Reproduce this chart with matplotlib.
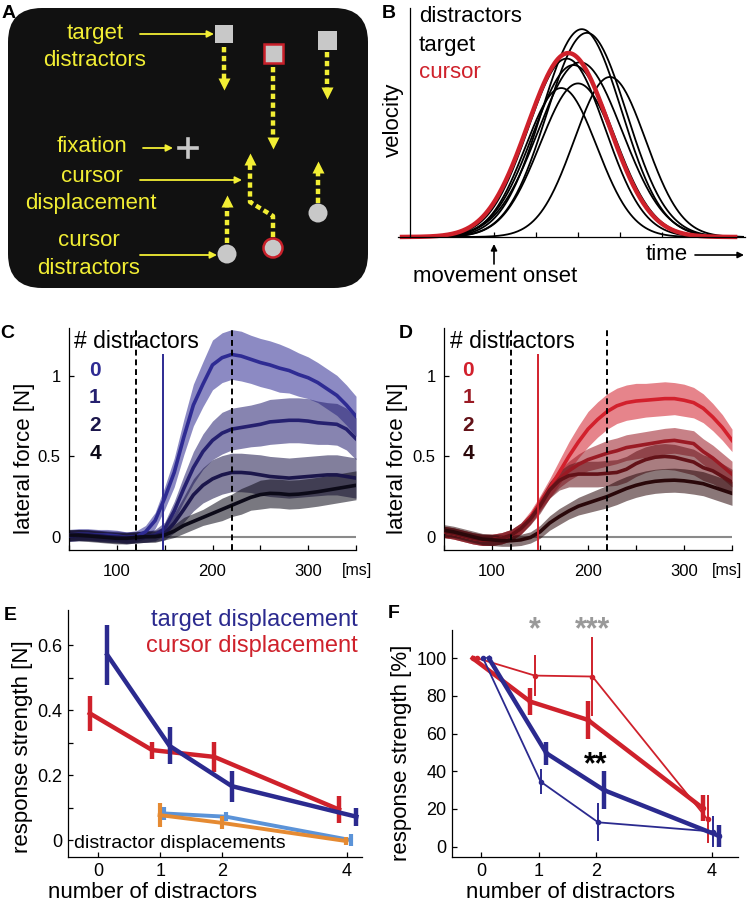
import numpy as np
import matplotlib
matplotlib.use('Agg')
import matplotlib.pyplot as plt
from matplotlib.patches import FancyBboxPatch, Rectangle, Circle

plt.rcParams['font.family'] = ['Liberation Sans', 'DejaVu Sans']

W, H = 747, 902

# ---------------- data ----------------
# panel B: schematic velocity profiles (peak time, peak height, width)
dist_peak_t = [4.09, 4.21, 3.73, 3.89, 4.05, 4.76, 4.00, 3.60]
dist_peak_h = [1.13, 1.11, 0.97, 0.935, 0.95, 0.87, 0.835, 0.81]
dist_width = [0.95, 0.95, 0.92, 0.95, 1.0, 0.85, 0.9, 0.85]
cursor_peak_t, cursor_peak_h, cursor_width = 3.77, 1.0, 0.97
onset_ticks = [2, 3, 4, 5, 6]

# panels C / D: lateral force traces [N]
time_ms = list(range(50, 351, 10))
dashed_ms = [120, 220]
stim_ms = 148
n_dist = ['0', '1', '2', '4']

target_force = [
    [0.01, 0.015, 0.015, 0.01, 0.01, 0.005, -0.005, 0.0, 0.03, 0.10,
     0.24, 0.40, 0.62, 0.82, 0.95, 1.07, 1.115, 1.135, 1.125, 1.105,
     1.085, 1.07, 1.05, 1.035, 1.01, 0.99, 0.96, 0.92, 0.88, 0.82, 0.75],
    [0.005, 0.01, 0.01, 0.005, 0.0, 0.0, -0.005, 0.0, 0.0, 0.01,
     0.05, 0.16, 0.30, 0.43, 0.53, 0.60, 0.645, 0.67, 0.68, 0.69,
     0.70, 0.715, 0.72, 0.725, 0.725, 0.72, 0.71, 0.705, 0.70, 0.67, 0.61],
    [0.005, 0.01, 0.01, 0.005, 0.0, -0.005, -0.01, -0.005, 0.0, 0.005,
     0.02, 0.085, 0.17, 0.26, 0.32, 0.36, 0.385, 0.40, 0.40, 0.395,
     0.385, 0.375, 0.37, 0.365, 0.37, 0.375, 0.38, 0.385, 0.385, 0.375, 0.365],
    [0.01, 0.01, 0.005, 0.0, -0.005, -0.01, -0.01, -0.005, 0.0, 0.0,
     0.01, 0.035, 0.07, 0.095, 0.12, 0.145, 0.17, 0.195, 0.22, 0.245,
     0.262, 0.27, 0.268, 0.262, 0.265, 0.272, 0.28, 0.29, 0.30, 0.31, 0.32],
]
target_sem = [
    [0.035, 0.035, 0.035, 0.035, 0.035, 0.035, 0.035, 0.035, 0.04, 0.05,
     0.07, 0.09, 0.11, 0.13, 0.14, 0.155, 0.155, 0.155, 0.155, 0.15,
     0.15, 0.15, 0.15, 0.14, 0.135, 0.13, 0.125, 0.125, 0.125, 0.125, 0.125],
    [0.035, 0.035, 0.035, 0.035, 0.035, 0.035, 0.035, 0.035, 0.035, 0.035,
     0.04, 0.06, 0.08, 0.10, 0.11, 0.12, 0.13, 0.13, 0.13, 0.13,
     0.135, 0.14, 0.14, 0.14, 0.14, 0.14, 0.135, 0.13, 0.13, 0.13, 0.13],
    [0.035, 0.035, 0.035, 0.035, 0.035, 0.035, 0.035, 0.035, 0.035, 0.035,
     0.04, 0.06, 0.08, 0.10, 0.11, 0.12, 0.12, 0.12, 0.12, 0.12,
     0.125, 0.125, 0.125, 0.125, 0.125, 0.125, 0.125, 0.125, 0.125, 0.125, 0.125],
    [0.035, 0.035, 0.035, 0.035, 0.035, 0.035, 0.035, 0.035, 0.035, 0.035,
     0.03, 0.04, 0.05, 0.05, 0.05, 0.06, 0.07, 0.07, 0.08, 0.08,
     0.09, 0.09, 0.09, 0.09, 0.09, 0.09, 0.09, 0.09, 0.09, 0.09, 0.09],
]
cursor_force = [
    [0.03, 0.02, 0.005, -0.01, -0.02, -0.02, -0.01, 0.01, 0.05, 0.12,
     0.21, 0.30, 0.40, 0.50, 0.59, 0.67, 0.73, 0.78, 0.815, 0.835,
     0.845, 0.85, 0.855, 0.86, 0.86, 0.85, 0.835, 0.80, 0.745, 0.68, 0.60],
    [0.03, 0.02, 0.005, -0.01, -0.02, -0.02, -0.01, 0.01, 0.05, 0.11,
     0.20, 0.29, 0.36, 0.41, 0.45, 0.48, 0.50, 0.52, 0.535, 0.555,
     0.565, 0.575, 0.585, 0.595, 0.60, 0.59, 0.58, 0.53, 0.49, 0.44, 0.39],
    [0.03, 0.02, 0.005, -0.01, -0.02, -0.02, -0.01, 0.01, 0.05, 0.11,
     0.19, 0.29, 0.35, 0.38, 0.39, 0.39, 0.39, 0.395, 0.40, 0.42,
     0.455, 0.48, 0.495, 0.50, 0.495, 0.48, 0.465, 0.43, 0.41, 0.375, 0.34],
    [0.04, 0.03, 0.015, 0.0, -0.015, -0.02, -0.025, -0.025, -0.02, -0.005,
     0.03, 0.085, 0.125, 0.16, 0.19, 0.21, 0.23, 0.25, 0.275, 0.30,
     0.32, 0.335, 0.345, 0.35, 0.352, 0.348, 0.34, 0.33, 0.31, 0.29, 0.27],
]
cursor_sem = [
    [0.035, 0.035, 0.035, 0.035, 0.035, 0.035, 0.035, 0.035, 0.035, 0.04,
     0.045, 0.06, 0.075, 0.09, 0.10, 0.11, 0.11, 0.11, 0.11, 0.11,
     0.11, 0.105, 0.105, 0.105, 0.10, 0.10, 0.095, 0.09, 0.085, 0.08, 0.07],
    [0.035, 0.035, 0.035, 0.035, 0.035, 0.035, 0.035, 0.035, 0.035, 0.035,
     0.045, 0.05, 0.055, 0.06, 0.065, 0.07, 0.075, 0.08, 0.08, 0.08,
     0.08, 0.08, 0.08, 0.08, 0.08, 0.08, 0.08, 0.08, 0.08, 0.08, 0.08],
    [0.035, 0.035, 0.035, 0.035, 0.035, 0.035, 0.035, 0.035, 0.035, 0.035,
     0.045, 0.05, 0.06, 0.07, 0.08, 0.08, 0.08, 0.08, 0.08, 0.08,
     0.08, 0.08, 0.08, 0.08, 0.08, 0.08, 0.08, 0.08, 0.08, 0.08, 0.08],
    [0.035, 0.035, 0.035, 0.035, 0.035, 0.035, 0.035, 0.035, 0.035, 0.035,
     0.04, 0.045, 0.05, 0.05, 0.055, 0.06, 0.065, 0.07, 0.075, 0.075,
     0.075, 0.075, 0.075, 0.075, 0.075, 0.075, 0.075, 0.075, 0.075, 0.075, 0.075],
]

# panel E: response strength [N]
n_distractors = [0, 1, 2, 4]
target_resp = [0.57, 0.29, 0.166, 0.072]
target_err = [0.092, 0.057, 0.048, 0.028]
cursor_resp = [0.39, 0.277, 0.256, 0.094]
cursor_err = [0.054, 0.026, 0.046, 0.041]
n_distractors_d = [1, 2, 4]
dist_target_resp = [0.082, 0.072, 0.0]
dist_target_err = [0.02, 0.013, 0.018]
dist_cursor_resp = [0.077, 0.053, -0.003]
dist_cursor_err = [0.036, 0.02, 0.012]

# panel F: normalised response strength [%]
target_pct = [100, 49.6, 30, 5.7]
target_pct_err = [0, 6, 10, 6]
target_pct2 = [100, 34.5, 12.9, 8]
target_pct2_err = [0, 6.5, 10, 8]
cursor_pct = [100, 77, 67.3, 20.4]
cursor_pct_err = [0, 7.3, 10, 7]
cursor_pct2 = [100, 90.8, 90.3, 14.5]
cursor_pct2_err = [0, 11, 21, 12.7]

# ---------------- colours ----------------
BLUE = '#2b2a8f'
RED = '#cf212b'
target_cols = ['#2e2b93', '#25206f', '#1b164b', '#0c0a18']
cursor_cols = ['#d2202c', '#9a1a24', '#631218', '#2a080a']
YEL = '#f2ee34'
GREY = '#c8c8c8'

fig = plt.figure(figsize=(W / 100, H / 100), dpi=100)


def px_axes(x0, y0, x1, y1, **kw):
    return fig.add_axes([x0 / W, 1 - y1 / H, (x1 - x0) / W, (y1 - y0) / H], **kw)


def matlab_style(ax, fs):
    for s in ['top', 'right']:
        ax.spines[s].set_visible(False)
    for s in ['left', 'bottom']:
        ax.spines[s].set_linewidth(0.9)
    ax.tick_params(direction='in', length=3.5, width=0.9, labelsize=fs)


# ---------------- panel B ----------------
axB = px_axes(398, 8, 745, 237)
tb = np.linspace(0, 7.93, 400)
for pt, ph, pw in zip(dist_peak_t, dist_peak_h, dist_width):
    axB.plot(tb, ph * np.exp(-0.5 * ((tb - pt) / pw) ** 2), color='black', lw=1.3, clip_on=False)
tr = np.linspace(-0.19, 7.74, 400)
axB.plot(tr, cursor_peak_h * np.exp(-0.5 * ((tr - cursor_peak_t) / cursor_width) ** 2),
         color=RED, lw=3.2, clip_on=False)
axB.set_xlim(-0.286, 7.976)
axB.set_ylim(0, 1.245)
matlab_style(axB, 10)
axB.spines['left'].set_position(('data', 0))
axB.set_xticks(onset_ticks)
axB.set_xticklabels([])
axB.set_yticks([])


# ---------------- panels C / D ----------------
def force_panel(rect, means, sems, cols):
    ax = px_axes(*rect)
    ax.axhline(0, color='#8a8a8a', lw=1.5, zorder=1)
    for m, s, c in zip(means, sems, cols):
        m = np.array(m)
        s = np.array(s)
        ax.fill_between(time_ms, m - s, m + s, color=c, alpha=0.55, lw=0, zorder=2)
    for m, c in zip(means, cols):
        ax.plot(time_ms, m, color=c, lw=2.6, zorder=3)
    for xv in dashed_ms:
        ax.axvline(xv, color='black', lw=1.4, ls=(0, (3, 2)), zorder=4)
    ax.vlines(stim_ms, -0.083, 1.135, color=cols[0], lw=1.4, zorder=4)
    ax.set_xlim(50, 350)
    ax.set_ylim(-0.083, 1.30)
    matlab_style(ax, 12)
    ax.tick_params(axis='x', pad=10)
    ax.tick_params(axis='y', pad=6)
    ax.set_xticks(list(range(50, 351, 50)))
    ax.set_xticklabels(['', '100', '', '200', '', '300', ''])
    ax.set_yticks([0, 0.5, 1])
    ax.set_yticklabels(['0', '0.5', '1'])
    return ax


force_panel((69, 328, 356, 550), target_force, target_sem, target_cols)
force_panel((444, 328, 732, 550), cursor_force, cursor_sem, cursor_cols)

# ---------------- panel E ----------------
axE = px_axes(68, 610, 362, 857)
xE = np.array(n_distractors, dtype=float)
xEd = np.array(n_distractors_d, dtype=float)
axE.errorbar(xEd - 0.01, dist_cursor_resp, yerr=dist_cursor_err, color='#e58a32',
             lw=2.8, elinewidth=3, capsize=0, zorder=3)
axE.errorbar(xEd + 0.06, dist_target_resp, yerr=dist_target_err, color='#5b93d8',
             lw=2.8, elinewidth=3, capsize=0, zorder=2)
axE.errorbar(xE - 0.13, cursor_resp, yerr=cursor_err, color=RED,
             lw=3.2, elinewidth=3.2, capsize=0, zorder=4)
axE.errorbar(xE + 0.15, target_resp, yerr=target_err, color=BLUE,
             lw=3.2, elinewidth=3.2, capsize=0, zorder=5)
axE.set_xlim(-0.48, 4.24)
axE.set_ylim(-0.052, 0.708)
matlab_style(axE, 13)
axE.tick_params(axis='x', pad=4)
axE.tick_params(axis='y', pad=4)
axE.set_xticks(n_distractors)
axE.set_yticks([0, 0.1, 0.2, 0.3, 0.4, 0.5, 0.6])
axE.set_yticklabels(['0', '', '0.2', '', '0.4', '', '0.6'])

# ---------------- panel F ----------------
axF = px_axes(452, 630, 738, 857)
xF = np.array(n_distractors, dtype=float)
axF.errorbar(xF - 0.07, cursor_pct2, yerr=cursor_pct2_err, color=RED, lw=1.3,
             elinewidth=1.4, capsize=0, marker='o', ms=3, zorder=2)
axF.errorbar(xF - 0.15, cursor_pct, yerr=cursor_pct_err, color=RED, lw=3.2,
             elinewidth=3.2, capsize=0, marker='o', ms=3, zorder=3)
axF.errorbar(xF + 0.03, target_pct2, yerr=target_pct2_err, color=BLUE, lw=1.3,
             elinewidth=1.4, capsize=0, marker='o', ms=3, zorder=4)
axF.errorbar(xF + 0.13, target_pct, yerr=target_pct_err, color=BLUE, lw=3.2,
             elinewidth=3.2, capsize=0, marker='o', ms=3, zorder=5)
axF.set_xlim(-0.51, 4.46)
axF.set_ylim(-5.5, 115)
matlab_style(axF, 13)
axF.tick_params(axis='x', pad=4)
axF.tick_params(axis='y', pad=4)
axF.set_xticks(n_distractors)
axF.set_yticks([0, 20, 40, 60, 80, 100])

# ---------------- overlay: panel A and all free text ----------------
ov = fig.add_axes([0, 0, 1, 1], zorder=10)
ov.set_xlim(0, W)
ov.set_ylim(H, 0)
ov.axis('off')
ov.patch.set_alpha(0)


def txt(x, y, s, **kw):
    kw.setdefault('ha', 'center')
    kw.setdefault('va', 'center')
    ov.text(x, y, s, **kw)


# panel A
ov.add_patch(FancyBboxPatch((8, 8), 360, 280, boxstyle='round,pad=0,rounding_size=34',
                            fc='#111111', ec='none', zorder=1))
for x, y, s in [(95, 33, 'target'), (95, 60, 'distractors'), (92, 146, 'fixation'),
                (92, 176, 'cursor'), (91, 203, 'displacement'), (89, 241, 'cursor'),
                (89, 268, 'distractors')]:
    txt(x, y, s, color=YEL, fontsize=16, zorder=3)
for (x0, y0), (x1, y1) in [((140, 34), (214, 34)), ((143, 148), (173, 148)),
                           ((140, 180), (242, 180)), ((140, 255), (217, 255))]:
    ov.annotate('', xy=(x1, y1), xytext=(x0, y0), zorder=3,
                arrowprops=dict(arrowstyle='-|>', color=YEL, lw=1.3, mutation_scale=10,
                                shrinkA=0, shrinkB=0))
# dashed movement arrows
dash = (0, (1.2, 0.8))
for xs, ys, head in [([224, 224], [47, 84], 'v'), ([273, 273], [67, 143], 'v'),
                     ([327, 327], [52, 93], 'v'), ([227, 227], [243, 201], '^'),
                     ([318, 318], [203, 167], '^'),
                     ([273, 273, 250, 250], [237, 216, 202, 159], '^')]:
    ov.plot(xs, ys, color=YEL, lw=3.2, ls=dash, solid_capstyle='butt', zorder=3)
    ov.plot(xs[-1], ys[-1], marker=head, ms=8, color=YEL, mec='none', zorder=3)
# squares, circles, fixation cross
ov.add_patch(Rectangle((215, 25), 18, 18, fc=GREY, ec='none', zorder=4))
ov.add_patch(Rectangle((264, 44), 19, 19, fc=GREY, ec='#c8202a', lw=1.8, zorder=4))
ov.add_patch(Rectangle((318, 31), 19, 19, fc=GREY, ec='none', zorder=4))
ov.add_patch(Circle((227, 254), 9.5, fc=GREY, ec='none', zorder=4))
ov.add_patch(Circle((273, 248), 9.5, fc=GREY, ec='#c8202a', lw=1.8, zorder=4))
ov.add_patch(Circle((318, 213), 9.5, fc=GREY, ec='none', zorder=4))
ov.plot([179, 197], [148, 148], color=GREY, lw=2.6, zorder=4)
ov.plot([188, 188], [139, 157], color=GREY, lw=2.6, zorder=4)

# panel B text
txt(419, 17, 'distractors', ha='left', fontsize=16)
txt(419, 45, 'target', ha='left', fontsize=16)
txt(419, 73, 'cursor', ha='left', fontsize=16, color=RED)
txt(393, 120, 'velocity', rotation=90, fontsize=16)
txt(667, 254, 'time', fontsize=16)
ov.annotate('', xy=(744, 255), xytext=(695, 255),
            arrowprops=dict(arrowstyle='-|>', color='black', lw=1.2, mutation_scale=9,
                            shrinkA=0, shrinkB=0))
ov.annotate('', xy=(494, 244), xytext=(494, 264),
            arrowprops=dict(arrowstyle='-|>', color='black', lw=1.2, mutation_scale=9,
                            shrinkA=0, shrinkB=0))
txt(495, 277, 'movement onset', fontsize=16)

# panels C / D text
for x0, xn, cols in [(74, 95, target_cols), (450, 468, cursor_cols)]:
    txt(x0, 342, '# distractors', ha='left', fontsize=16.5)
    for k, (lab, c) in enumerate(zip(n_dist, cols)):
        txt(xn, 370 + 27.7 * k, lab, color=c, fontsize=15, fontweight='bold')
for x in [25, 397]:
    txt(x, 458, 'lateral force [N]', rotation=90, fontsize=16)
for x in [357, 727]:
    txt(x, 570, '[ms]', fontsize=11.5)

# panel E text
txt(358, 620, 'target displacement', ha='right', color=BLUE, fontsize=17)
txt(358, 646, 'cursor displacement', ha='right', color=RED, fontsize=17)
txt(74, 844, 'distractor displacements', ha='left', fontsize=14)
txt(23, 747, 'response strength [N]', rotation=90, fontsize=16)
txt(153, 893, 'number of distractors', fontsize=16)

# panel F text
txt(402, 753, 'response strength [%]', rotation=90, fontsize=16)
txt(570, 893, 'number of distractors', fontsize=16)
txt(535, 630, '*', color='#999999', fontsize=22, fontweight='bold')
txt(593, 630, '***', color='#999999', fontsize=22, fontweight='bold')
txt(596, 765, '**', color='black', fontsize=22, fontweight='bold')

# panel letters
for x, y, s in [(9, 13, 'A'), (389, 13, 'B'), (7, 333, 'C'), (406, 333, 'D'),
                (10, 615, 'E'), (394, 614, 'F')]:
    txt(x, y, s, fontsize=14, fontweight='bold')

fig.savefig('out.png', dpi=100)
